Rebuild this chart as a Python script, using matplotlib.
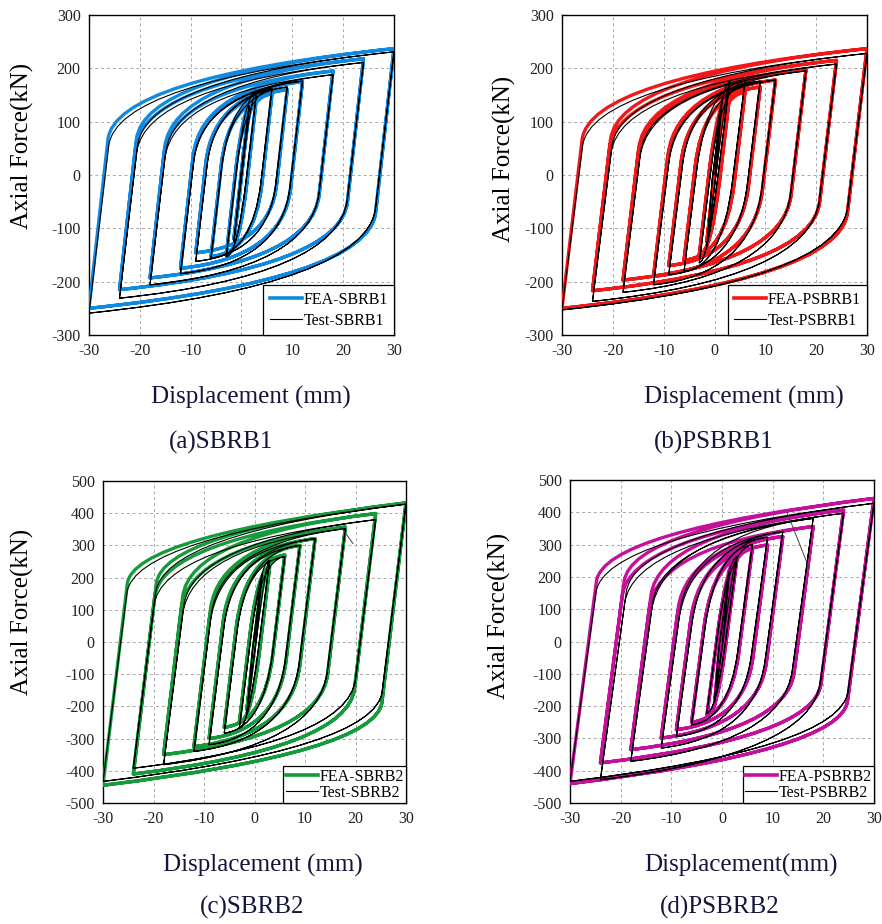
import numpy as np
import matplotlib
matplotlib.use('Agg')
import matplotlib.pyplot as plt
from matplotlib.path import Path
from matplotlib.patches import PathPatch

plt.rcParams['font.family'] = ['Liberation Serif', 'DejaVu Serif']
plt.rcParams['axes.unicode_minus'] = False

# Loading amplitudes (mm), each applied for two cycles
amps = [1.5, 3, 6, 9, 12, 18, 24, 30]

# (a) SBRB1 peak forces (kN)
fea_a_pos = [125, 150, 152, 160, 175, 195, 218, 237]
fea_a_neg = [-120, -150, -153, -146, -175, -193, -215, -250]
test_a_pos = [130, 158, 162, 165, 176, 188, 211, 231]
test_a_neg = [-125, -153, -156, -162, -185, -206, -231, -259]

# (b) PSBRB1
fea_b_pos = [125, 150, 155, 165, 178, 198, 215, 237]
fea_b_neg = [-125, -150, -160, -170, -190, -197, -217, -250]
test_b_pos = [140, 175, 176, 176, 178, 195, 208, 228]
test_b_neg = [-135, -165, -181, -187, -206, -220, -237, -253]

# (c) SBRB2
fea_c_pos = [200, 233, 270, 300, 321, 357, 399, 432]
fea_c_neg = [-210, -250, -265, -300, -325, -350, -410, -445]
test_c_pos = [210, 254, 265, 300, 321, 352, 380, 428]
test_c_neg = [-220, -267, -283, -319, -340, -381, -392, -433]

# (d) PSBRB2
fea_d_pos = [220, 263, 289, 299, 325, 356, 407, 443]
fea_d_neg = [-200, -232, -250, -273, -299, -335, -376, -440]
test_d_pos = [220, 263, 299, 323, 340, 381, 397, 428]
test_d_neg = [-190, -222, -258, -294, -330, -371, -428, -433]

# stray segments in the test records (mm, kN)
glitch_c_x = [16.9, 19.5]
glitch_c_y = [363, 306]
glitch_d_x = [12.9, 17.2]
glitch_d_y = [397, 227]

# elastic stiffness (kN/mm), knee force ratio, hardening slope (kN/mm)
params = {'a': (85, 0.28, 1.0), 'b': (80, 0.28, 1.0),
          'c': (130, 0.42, 1.9), 'd': (120, 0.42, 1.9)}


def branch(d0, f0, d1, f1, K, kf, h):
    fk = kf * f1
    dk = d0 + (fk - f0) / K
    s = 1 if d1 > d0 else -1
    if s * (d1 - dk) <= 0:
        return [(d1, f1)], [Path.LINETO]
    dq = (f1 - fk + K * dk - h * d1) / (K - h)
    fq = f1 + h * (dq - d1)
    if s * (dq - dk) <= 0 or s * (d1 - dq) <= 0:
        return [(dk, fk), (d1, f1)], [Path.LINETO, Path.LINETO]
    return [(dk, fk), (dq, fq), (d1, f1)], [Path.LINETO, Path.CURVE3, Path.CURVE3]


def hysteresis(pos, neg, K, kf, h):
    verts, codes = [(0, 0)], [Path.MOVETO]
    d0, f0 = 0, 0
    for a, fp, fn in zip(np.repeat(amps, 2), np.repeat(pos, 2), np.repeat(neg, 2)):
        k = kf * (0.2 + 0.8 * a / 30)
        v, c = branch(d0, f0, a, fp, K, k, h)
        verts += v; codes += c
        v, c = branch(a, fp, -a, fn, K, k, h)
        verts += v; codes += c
        d0, f0 = -a, fn
    return Path(verts, codes)


panels = [
    ('a', fea_a_pos, fea_a_neg, test_a_pos, test_a_neg, '#1089e0', 'SBRB1',
     (89, 15, 394, 335), (-300, 300), 'Displacement (mm)', 251, 397, 221, 442, 22, 146, None),
    ('b', fea_b_pos, fea_b_neg, test_b_pos, test_b_neg, '#f01818', 'PSBRB1',
     (562, 15, 867, 335), (-300, 300), 'Displacement (mm)', 744, 397, 714, 442, 504, 159, None),
    ('c', fea_c_pos, fea_c_neg, test_c_pos, test_c_neg, '#159a3c', 'SBRB2',
     (103, 481, 406, 803), (-500, 500), 'Displacement (mm)', 263, 865, 252, 907, 22, 612,
     (glitch_c_x, glitch_c_y)),
    ('d', fea_d_pos, fea_d_neg, test_d_pos, test_d_neg, '#c4109a', 'PSBRB2',
     (570, 480, 874, 803), (-500, 500), 'Displacement(mm)', 741, 865, 720, 907, 499, 616,
     (glitch_d_x, glitch_d_y)),
]

W, H = 882, 924
fig = plt.figure(figsize=(W / 100, H / 100), dpi=100)
navy = '#14143c'

for (key, fp, fn, tp, tn, color, name, box, ylim, xlab,
     xlx, xly, tx, ty, ylx, yly, glitch) in panels:
    x0, y0, x1, y1 = box
    ax = fig.add_axes([x0 / W, 1 - y1 / H, (x1 - x0) / W, (y1 - y0) / H])
    K, kf, h = params[key]
    ax.add_patch(PathPatch(hysteresis(fp, fn, K, kf, h), fill=False,
                           edgecolor=color, lw=2.4, joinstyle='round', zorder=3))
    ax.add_patch(PathPatch(hysteresis(tp, tn, K * 0.95, kf * 0.85, h), fill=False,
                           edgecolor='black', lw=0.8, zorder=4))
    if glitch is not None:
        ax.plot(glitch[0], glitch[1], color='#444444', lw=0.7, zorder=4)
    ax.set_xlim(-30, 30)
    ax.set_ylim(*ylim)
    ax.set_xticks(range(-30, 31, 10))
    ax.set_yticks(range(ylim[0], ylim[1] + 1, 100))
    ax.grid(True, color='#a8a8a8', linestyle=(0, (3, 3)), linewidth=0.7)
    ax.tick_params(length=0, labelsize=11.5, colors='#222222', pad=6)
    for sp in ax.spines.values():
        sp.set_linewidth(1.0)
    ax.plot([], [], color=color, lw=2.6, label='FEA-' + name)
    ax.plot([], [], color='black', lw=0.8, label='Test-' + name)
    tight = ylim[1] == 500
    leg = ax.legend(loc='lower right', fontsize=11.5, frameon=True, fancybox=False,
                    borderaxespad=0, handlelength=2.0, handletextpad=0.1,
                    labelspacing=0.0 if tight else 0.3,
                    borderpad=0.15 if tight else 0.4, framealpha=1)
    leg.get_frame().set_edgecolor('black')
    leg.get_frame().set_linewidth(0.9)
    fig.text(xlx / W, 1 - xly / H, xlab, ha='center', va='center', fontsize=18, color=navy)
    fig.text(tx / W, 1 - ty / H, '(' + key + ')' + name, ha='center', va='center',
             fontsize=18, color=navy)
    fig.text(ylx / W, 1 - yly / H, 'Axial Force(kN)', ha='center', va='center',
             rotation=90, fontsize=18, color='black')

fig.savefig('out.png', dpi=100)
